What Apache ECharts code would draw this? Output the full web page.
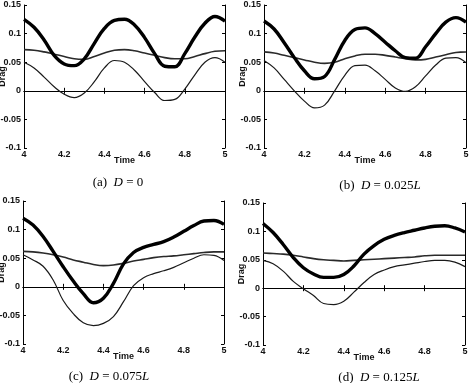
<!DOCTYPE html>
<html>
<head>
<meta charset="utf-8">
<script src="https://cdn.jsdelivr.net/npm/echarts@6/dist/echarts.min.js"></script>
<style>
  html, body { margin: 0; padding: 0; background: #fff; }
  #chart { width: 469px; height: 383px; }
</style>
</head>
<body>
<div id="chart"></div>
<script>
// sample times shared by every curve
var times = [4.00, 4.05, 4.10, 4.15, 4.20, 4.25, 4.30, 4.35, 4.40, 4.45, 4.50, 4.55, 4.60, 4.65, 4.70, 4.75, 4.80, 4.85, 4.90, 4.95, 5.00];

// (a) D = 0
var thickA = [0.125, 0.111, 0.089, 0.062, 0.047, 0.044, 0.056, 0.083, 0.109, 0.123, 0.125, 0.115, 0.093, 0.065, 0.043, 0.042, 0.065, 0.094, 0.118, 0.130, 0.122];
var thinA  = [0.050, 0.040, 0.024, 0.007, -0.006, -0.012, -0.004, 0.016, 0.040, 0.053, 0.050, 0.036, 0.016, -0.003, -0.017, -0.015, 0.003, 0.028, 0.050, 0.058, 0.050];
var midA   = [0.072, 0.071, 0.068, 0.064, 0.060, 0.056, 0.055, 0.060, 0.066, 0.071, 0.072, 0.070, 0.066, 0.062, 0.058, 0.056, 0.056, 0.060, 0.065, 0.069, 0.070];

// (b) D = 0.025L
var thickB = [0.122, 0.108, 0.084, 0.058, 0.035, 0.021, 0.025, 0.055, 0.088, 0.107, 0.110, 0.100, 0.085, 0.070, 0.058, 0.057, 0.077, 0.100, 0.120, 0.128, 0.120];
var thinB  = [0.053, 0.040, 0.020, 0.000, -0.018, -0.030, -0.025, 0.000, 0.027, 0.044, 0.045, 0.035, 0.020, 0.005, -0.001, 0.007, 0.026, 0.045, 0.057, 0.058, 0.049];
var midB   = [0.068, 0.066, 0.062, 0.058, 0.054, 0.050, 0.048, 0.050, 0.056, 0.061, 0.064, 0.064, 0.062, 0.059, 0.056, 0.054, 0.055, 0.059, 0.063, 0.067, 0.068];

// (c) D = 0.075L
var thickC = [0.120, 0.108, 0.088, 0.062, 0.035, 0.010, -0.012, -0.028, -0.020, 0.006, 0.040, 0.060, 0.069, 0.074, 0.079, 0.087, 0.097, 0.107, 0.115, 0.116, 0.109];
var thinC  = [0.056, 0.047, 0.036, 0.012, -0.024, -0.047, -0.063, -0.068, -0.064, -0.052, -0.026, 0.002, 0.016, 0.023, 0.028, 0.034, 0.042, 0.050, 0.056, 0.055, 0.046];
var midC   = [0.062, 0.061, 0.059, 0.056, 0.052, 0.047, 0.043, 0.039, 0.037, 0.038, 0.041, 0.045, 0.048, 0.051, 0.053, 0.054, 0.056, 0.058, 0.060, 0.061, 0.061];

// (d) D = 0.125L
var thickD = [0.114, 0.098, 0.077, 0.054, 0.036, 0.025, 0.019, 0.019, 0.024, 0.039, 0.060, 0.075, 0.086, 0.093, 0.098, 0.102, 0.106, 0.109, 0.110, 0.106, 0.099];
var thinD  = [0.049, 0.043, 0.030, 0.012, -0.001, -0.013, -0.027, -0.029, -0.023, -0.007, 0.010, 0.024, 0.032, 0.038, 0.041, 0.044, 0.047, 0.049, 0.049, 0.046, 0.038];
var midD   = [0.062, 0.061, 0.060, 0.058, 0.055, 0.052, 0.050, 0.049, 0.048, 0.049, 0.050, 0.051, 0.052, 0.053, 0.054, 0.055, 0.057, 0.058, 0.058, 0.058, 0.058];

var captions = ['(a)  {i|D} = 0', '(b)  {i|D} = 0.025{i|L}', '(c)  {i|D} = 0.075{i|L}', '(d)  {i|D} = 0.125{i|L}'];

var panels = [
  { left: 24, top: 5, width: 201, height: 143, thick: thickA, thin: thinA, mid: midA, cx: 113, cy: 171 },
  { left: 264, top: 5, width: 202, height: 143, thick: thickB, thin: thinB, mid: midB, cx: 375, cy: 174 },
  { left: 23, top: 201, width: 201, height: 143, thick: thickC, thin: thinC, mid: midC, cx: 104, cy: 365 },
  { left: 263, top: 203, width: 202, height: 142, thick: thickD, thin: thinD, mid: midD, cx: 374, cy: 366 }
];

function pairs(vals) {
  return times.map(function (t, k) { return [t, vals[k]]; });
}

var font = 'Liberation Sans, Arial, sans-serif';
var serif = 'Liberation Serif, Times New Roman, serif';
var labelStyle = { color: '#111', fontSize: 9, fontWeight: 'bold', fontFamily: font };
var lineStyle = { color: '#000', width: 1 };
var fmt = function (v) { return String(+v.toFixed(3)); };

var grids = [], xAxes = [], yAxes = [], series = [], titles = [];

panels.forEach(function (p, i) {
  grids.push({ left: p.left, top: p.top, width: p.width, height: p.height, outerBoundsMode: 'none' });
  xAxes.push({
    type: 'value', gridIndex: i, min: 4, max: 5, interval: 0.2, position: 'bottom',
    name: 'Time', nameLocation: 'middle', nameGap: 8, nameMoveOverlap: false, nameTextStyle: labelStyle,
    axisLine: { show: true, lineStyle: lineStyle },
    axisTick: { inside: true, length: 3, lineStyle: lineStyle },
    axisLabel: { margin: 2, formatter: fmt, color: '#111', fontSize: 9, fontWeight: 'bold', fontFamily: font },
    splitLine: { show: false }
  });
  xAxes.push({
    type: 'value', gridIndex: i, min: 4, max: 5, interval: 0.2, position: 'top',
    axisLine: { show: true, lineStyle: lineStyle },
    axisTick: { inside: true, length: 3, lineStyle: lineStyle },
    axisLabel: { show: false }, splitLine: { show: false }
  });
  yAxes.push({
    type: 'value', gridIndex: i, min: -0.1, max: 0.15, interval: 0.05, position: 'left',
    name: 'Drag', nameLocation: 'middle', nameGap: 17, nameMoveOverlap: false, nameTextStyle: labelStyle,
    axisLine: { show: true, lineStyle: lineStyle },
    axisTick: { inside: true, length: 3, lineStyle: lineStyle },
    axisLabel: { margin: 3, formatter: fmt, color: '#111', fontSize: 9, fontWeight: 'bold', fontFamily: font },
    splitLine: { show: false }
  });
  yAxes.push({
    type: 'value', gridIndex: i, min: -0.1, max: 0.15, interval: 0.05, position: 'right',
    axisLine: { show: true, lineStyle: lineStyle },
    axisTick: { inside: true, length: 3, lineStyle: lineStyle },
    axisLabel: { show: false }, splitLine: { show: false }
  });
  var common = { type: 'line', xAxisIndex: 2 * i, yAxisIndex: 2 * i, smooth: 0.4, symbol: 'none', silent: true, animation: false };
  series.push(Object.assign({}, common, { data: pairs(p.mid), lineStyle: { color: '#2a2a2a', width: 1.6 } }));
  series.push(Object.assign({}, common, { data: pairs(p.thin), lineStyle: { color: '#1a1a1a', width: 1.2 } }));
  series.push(Object.assign({}, common, { data: pairs(p.thick), lineStyle: { color: '#000', width: 3.4 } }));
  titles.push({
    text: captions[i], left: p.cx, top: p.cy, textAlign: 'center',
    textStyle: {
      fontFamily: serif, fontSize: 13, fontWeight: 'normal', color: '#000',
      rich: { i: { fontFamily: serif, fontSize: 13, fontStyle: 'italic', color: '#000' } }
    }
  });
});

var myChart = echarts.init(document.getElementById('chart'));
var option = {
  backgroundColor: '#fff',
  animation: false,
  title: titles,
  grid: grids,
  xAxis: xAxes,
  yAxis: yAxes,
  series: series
};
option && myChart.setOption(option);
</script>
</body>
</html>
